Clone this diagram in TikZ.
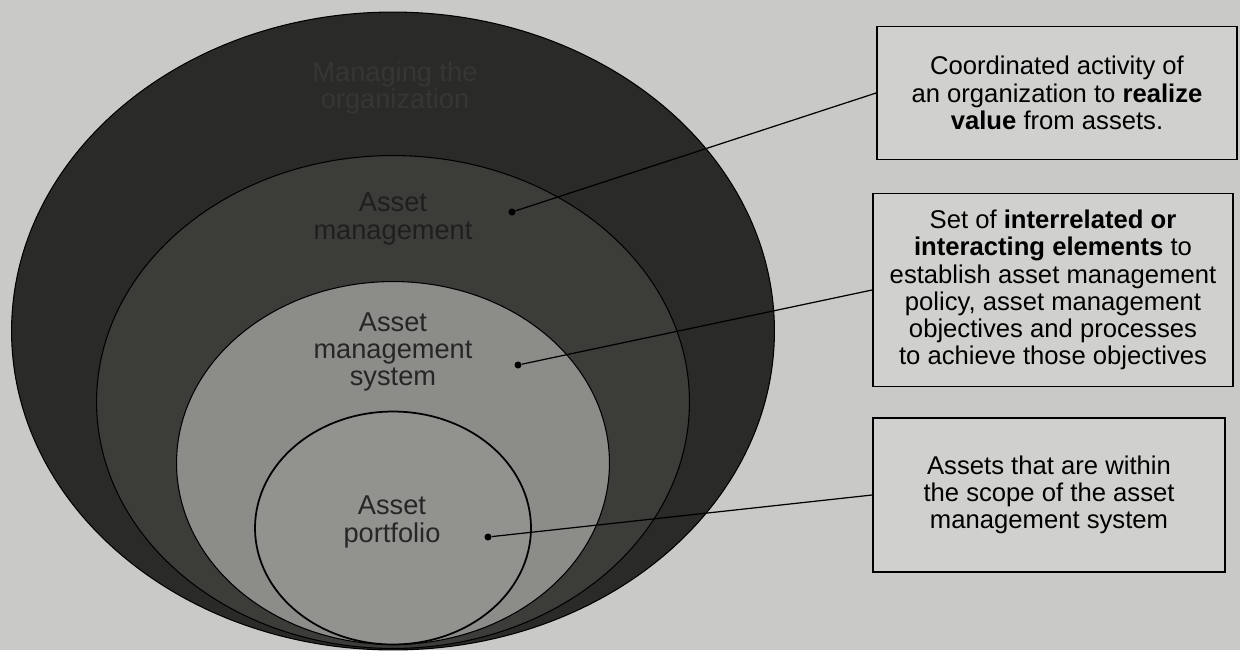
\documentclass[tikz,border=0pt]{standalone}
\usepackage{fontspec}
\setmainfont{Liberation Sans}
\usepackage{tikz}
\definecolor{paper}{RGB}{201,201,199}
\definecolor{boxfill}{RGB}{208,208,206}
\definecolor{orgring}{RGB}{42,42,40}
\definecolor{orgtext}{RGB}{54,54,52}
\definecolor{amring}{RGB}{60,60,57}
\definecolor{amsring}{RGB}{140,140,137}
\definecolor{portring}{RGB}{146,146,143}
\usetikzlibrary{shapes.geometric,positioning}
\tikzset{%
  ring/.style={draw=black, line width=0.6pt, shape=ellipse, inner sep=0pt},% nested set
  ringlabel/.style={align=center, font=\fontsize{15.5}{15.6}\selectfont},% label inside a set
  defbox/.style={draw=black, line width=1.1pt, fill=boxfill, rectangle, align=center,
    font=\fontsize{14.6}{15.5}\selectfont},% definition box
  pin/.style={circle, fill=black, inner sep=0pt, minimum size=4pt},% dot in a set
  leader/.style={black, line width=0.7pt}% line from dot to box
}
\begin{document}
\begin{tikzpicture}[x=0.02cm, y=-0.02cm]
\fill[paper] (0,0) rectangle (1240,650);
\useasboundingbox (0,0) rectangle (1240,650);

% the nested sets, all touching at the bottom
\node[ring, fill=orgring, minimum width=15.26cm, minimum height=12.76cm] (org) at (393,331) {};
\node[ring, fill=amring, minimum width=11.86cm, minimum height=9.86cm] (am) at (393,402) {};
\node[ring, fill=amsring, minimum width=8.66cm, minimum height=7.26cm] (ams) at (393,463) {};
\node[ring, fill=portring, line width=1pt, minimum width=5.52cm, minimum height=4.66cm] (port) at (393,528) {};

\node[ringlabel, text=orgtext] (orglabel) at (395,88) {Managing the\\organization};
\node[ringlabel, text=black!88] (amlabel) at (393,219) {Asset\\management};
\node[ringlabel, text=black!85] (amslabel) at (393,352) {Asset\\management\\system};
\node[ringlabel, text=black!85] (portlabel) at (392,522) {Asset\\portfolio};

% definitions
\node[defbox, minimum width=7.2cm, minimum height=2.66cm] (amdef) at (1057,93) {Coordinated activity of\\an organization to \textbf{realize}\\\textbf{value} from assets.};
\node[defbox, minimum width=7.2cm, minimum height=3.86cm] (amsdef) at (1053,290) {Set of \textbf{interrelated or}\\\textbf{interacting elements} to\\establish asset management\\policy, asset management\\objectives and processes\\to achieve those objectives};
\node[defbox, minimum width=7.04cm, minimum height=3.08cm] (portdef) at (1049,495) {Assets that are within\\the scope of the asset\\management system};

\node[pin] (amdot) at (512,212) {};
\node[pin] (amsdot) at (518,365) {};
\node[pin] (portdot) at (488,537) {};

\draw[leader] (amdot) -- (amdef.west);
\draw[leader] (amsdot) -- (amsdef.west);
\draw[leader] (portdot) -- (portdef.west);
\end{tikzpicture}
\end{document}
